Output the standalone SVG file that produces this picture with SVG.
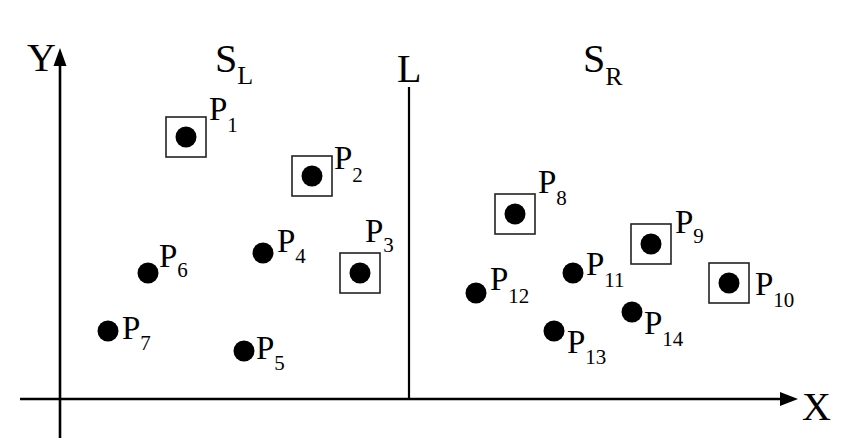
<svg xmlns="http://www.w3.org/2000/svg" width="866" height="444" viewBox="0 0 866 444">
<style>
text{font-family:'Liberation Serif','DejaVu Serif',serif;fill:#000}
.big{font-size:40px}
.p{font-size:33px}
.s{font-size:21px}
.sl{font-size:26px}
.box{fill:none;stroke:#222;stroke-width:1.6}
.dot{fill:#000}
.ax{stroke:#000;stroke-width:2.6;fill:none}
</style>
<rect width="866" height="444" fill="#fff"/>
<g id="connectors">
<line class="ax" x1="60" y1="438" x2="60" y2="62"/>
<polygon points="60,48 53.5,66 66.5,66" fill="#000"/>
<line class="ax" x1="20" y1="399" x2="784" y2="399"/>
<polygon points="798,399 780,392 780,406" fill="#000"/>
<line x1="409" y1="87" x2="409" y2="399" stroke="#000" stroke-width="2.2"/>
</g>
<g id="labels" font-family="Liberation Serif, serif">
<text class="big" x="27" y="71">Y</text>
<text class="big" x="802" y="420">X</text>
<text class="big" x="397" y="82">L</text>
<text class="big" x="215" y="72">S<tspan class="sl" dy="12">L</tspan></text>
<text class="big" x="583" y="72">S<tspan class="sl" dy="13">R</tspan></text>
</g>
<g id="P1"><rect class="box" x="166" y="117" width="40" height="40"/><circle class="dot" cx="186" cy="137" r="10.5"/><text class="p" x="209" y="120">P<tspan class="s" dy="12">1</tspan></text></g>
<g id="P2"><rect class="box" x="292" y="156" width="40" height="40"/><circle class="dot" cx="312" cy="176" r="10.5"/><text class="p" x="334" y="169">P<tspan class="s" dy="13">2</tspan></text></g>
<g id="P3"><rect class="box" x="340" y="253" width="40" height="40"/><circle class="dot" cx="360" cy="273" r="10.5"/><text class="p" x="365" y="242">P<tspan class="s" dy="10">3</tspan></text></g>
<g id="P4"><circle class="dot" cx="263" cy="253" r="10.5"/><text class="p" x="277" y="252">P<tspan class="s" dy="11">4</tspan></text></g>
<g id="P5"><circle class="dot" cx="244" cy="351" r="10.5"/><text class="p" x="256" y="359">P<tspan class="s" dy="11">5</tspan></text></g>
<g id="P6"><circle class="dot" cx="148" cy="273" r="10.5"/><text class="p" x="159" y="267">P<tspan class="s" dy="10">6</tspan></text></g>
<g id="P7"><circle class="dot" cx="108" cy="331" r="10.5"/><text class="p" x="122" y="339">P<tspan class="s" dy="11">7</tspan></text></g>
<g id="P8"><rect class="box" x="495" y="194" width="40" height="40"/><circle class="dot" cx="515" cy="214" r="10.5"/><text class="p" x="538" y="193">P<tspan class="s" dy="12">8</tspan></text></g>
<g id="P9"><rect class="box" x="631" y="224" width="40" height="40"/><circle class="dot" cx="651" cy="244" r="10.5"/><text class="p" x="675" y="233">P<tspan class="s" dy="10">9</tspan></text></g>
<g id="P10"><rect class="box" x="709" y="263" width="40" height="40"/><circle class="dot" cx="729" cy="283" r="10.5"/><text class="p" x="755" y="295">P<tspan class="s" dy="12">10</tspan></text></g>
<g id="P11"><circle class="dot" cx="573" cy="273" r="10.5"/><text class="p" x="586" y="275">P<tspan class="s" dy="12">11</tspan></text></g>
<g id="P12"><circle class="dot" cx="476" cy="293" r="10.5"/><text class="p" x="490" y="290">P<tspan class="s" dy="13">12</tspan></text></g>
<g id="P13"><circle class="dot" cx="554" cy="331" r="10.5"/><text class="p" x="567" y="353">P<tspan class="s" dy="11">13</tspan></text></g>
<g id="P14"><circle class="dot" cx="632" cy="312" r="10.5"/><text class="p" x="644" y="334">P<tspan class="s" dy="12">14</tspan></text></g>
</svg>
